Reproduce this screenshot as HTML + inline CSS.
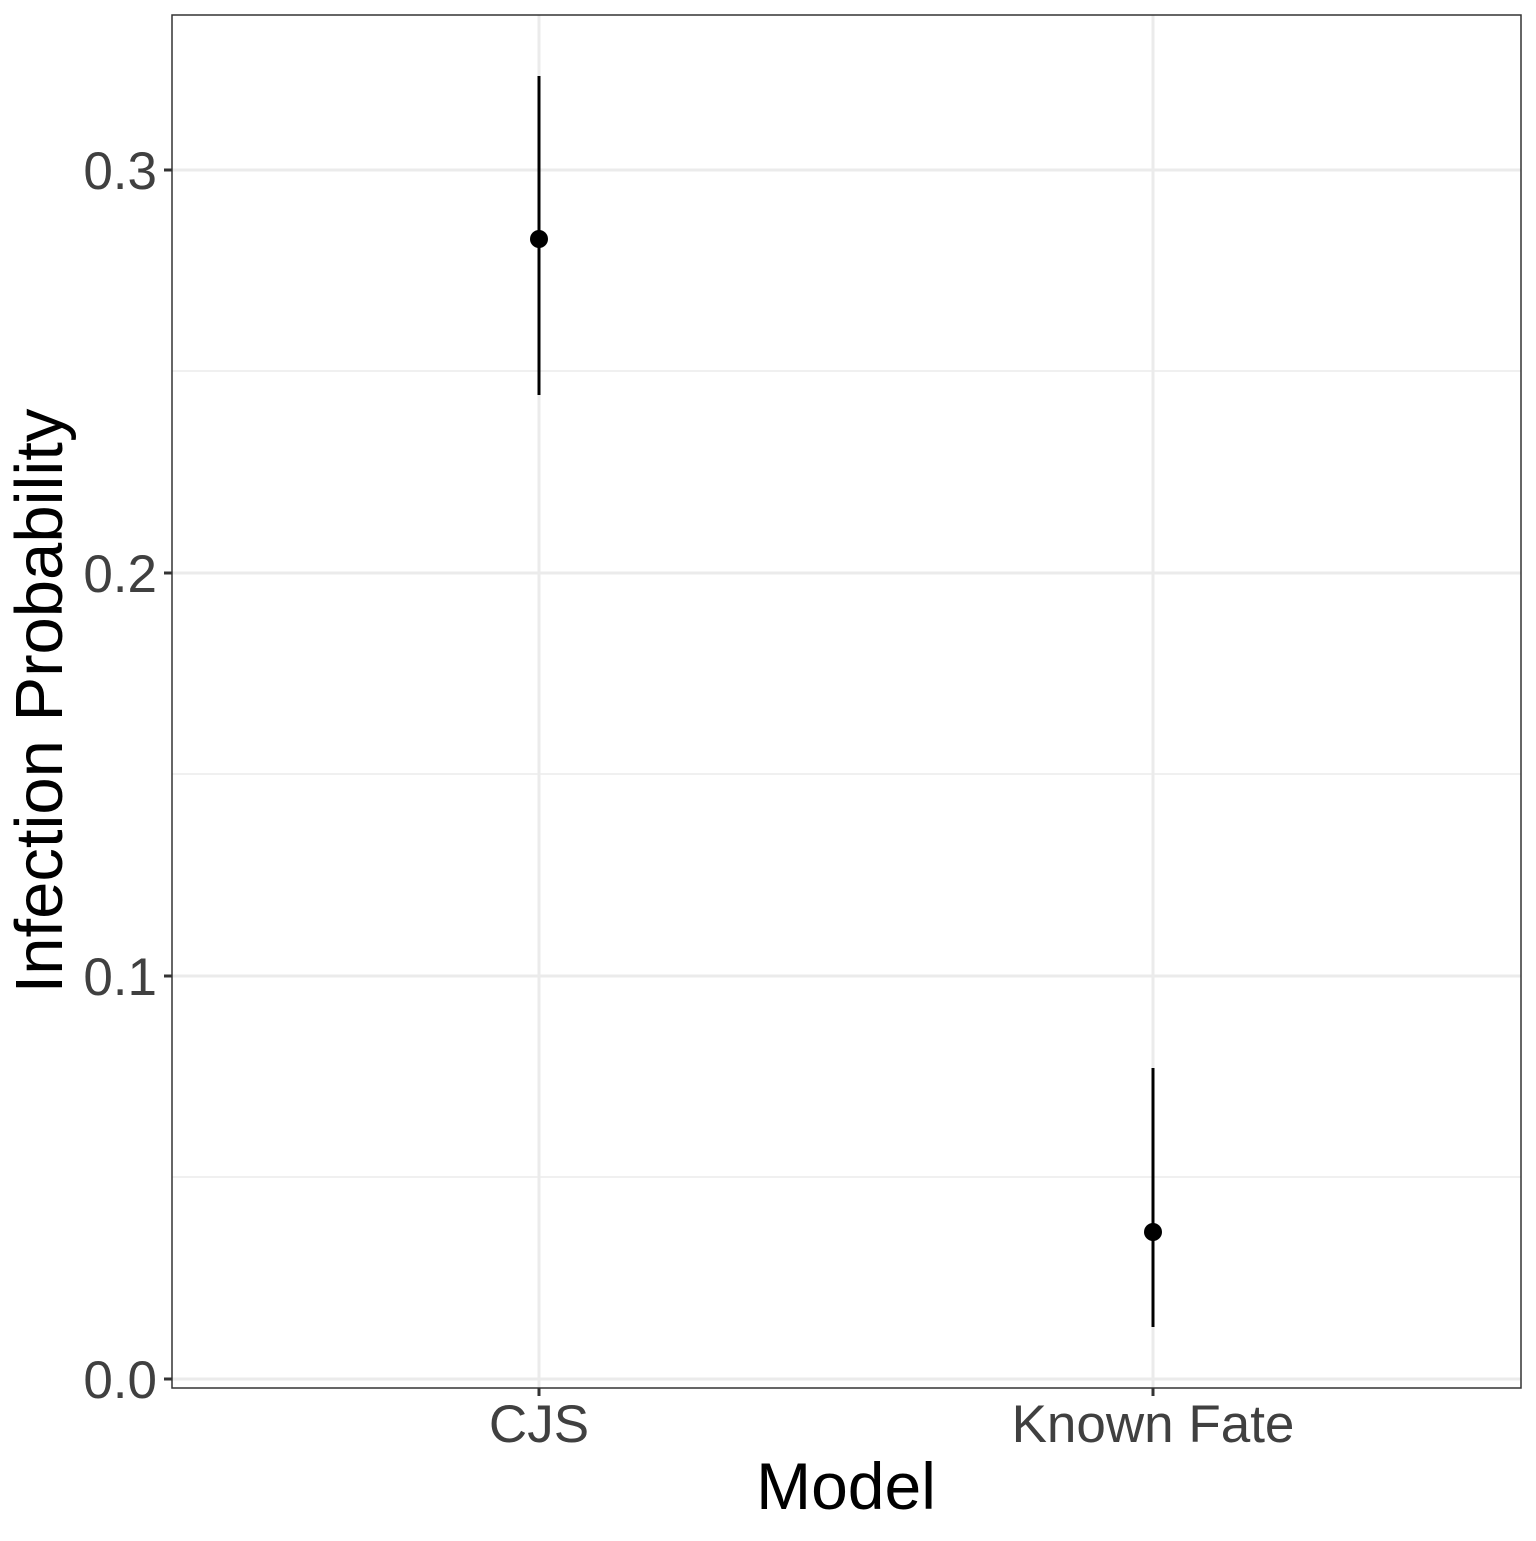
<!DOCTYPE html>
<html><head><style>body{margin:0;background:#fff}</style></head><body>
<svg width="1536" height="1536" xmlns="http://www.w3.org/2000/svg" font-family="Liberation Sans, Arial, sans-serif">
<rect width="1536" height="1536" fill="#fff"/>
<g stroke="#ebebeb" stroke-width="1.5">
<line x1="172" x2="1521" y1="371" y2="371"/>
<line x1="172" x2="1521" y1="774" y2="774"/>
<line x1="172" x2="1521" y1="1177" y2="1177"/>
</g>
<g stroke="#ebebeb" stroke-width="3">
<line x1="172" x2="1521" y1="170" y2="170"/>
<line x1="172" x2="1521" y1="573" y2="573"/>
<line x1="172" x2="1521" y1="976" y2="976"/>
<line x1="172" x2="1521" y1="1379" y2="1379"/>
<line x1="539" x2="539" y1="15" y2="1388"/>
<line x1="1153" x2="1153" y1="15" y2="1388"/>
</g>
<rect x="172" y="15" width="1349" height="1373" fill="none" stroke="#333" stroke-width="1.5"/>
<g stroke="#333" stroke-width="3">
<line x1="164" x2="172" y1="170" y2="170"/>
<line x1="164" x2="172" y1="573" y2="573"/>
<line x1="164" x2="172" y1="976" y2="976"/>
<line x1="164" x2="172" y1="1379" y2="1379"/>
<line x1="539" x2="539" y1="1388" y2="1396"/>
<line x1="1153" x2="1153" y1="1388" y2="1396"/>
</g>
<g stroke="#000" stroke-width="3">
<line x1="539" x2="539" y1="76" y2="395"/>
<line x1="1153" x2="1153" y1="1068" y2="1327"/>
</g>
<circle cx="539" cy="239" r="9" fill="#000"/>
<circle cx="1153" cy="1232" r="9" fill="#000"/>
<g fill="#404040" font-size="53" text-anchor="end">
<text x="157" y="189">0.3</text>
<text x="157" y="592">0.2</text>
<text x="157" y="995">0.1</text>
<text x="157" y="1398">0.0</text>
</g>
<g fill="#404040" font-size="53" text-anchor="middle">
<text x="539" y="1442">CJS</text>
<text x="1153" y="1442">Known Fate</text>
</g>
<text x="846" y="1509" font-size="66" text-anchor="middle" fill="#000">Model</text>
<text transform="translate(62,701) rotate(-90)" font-size="67" text-anchor="middle" fill="#000">Infection Probability</text>
</svg>
</body></html>
